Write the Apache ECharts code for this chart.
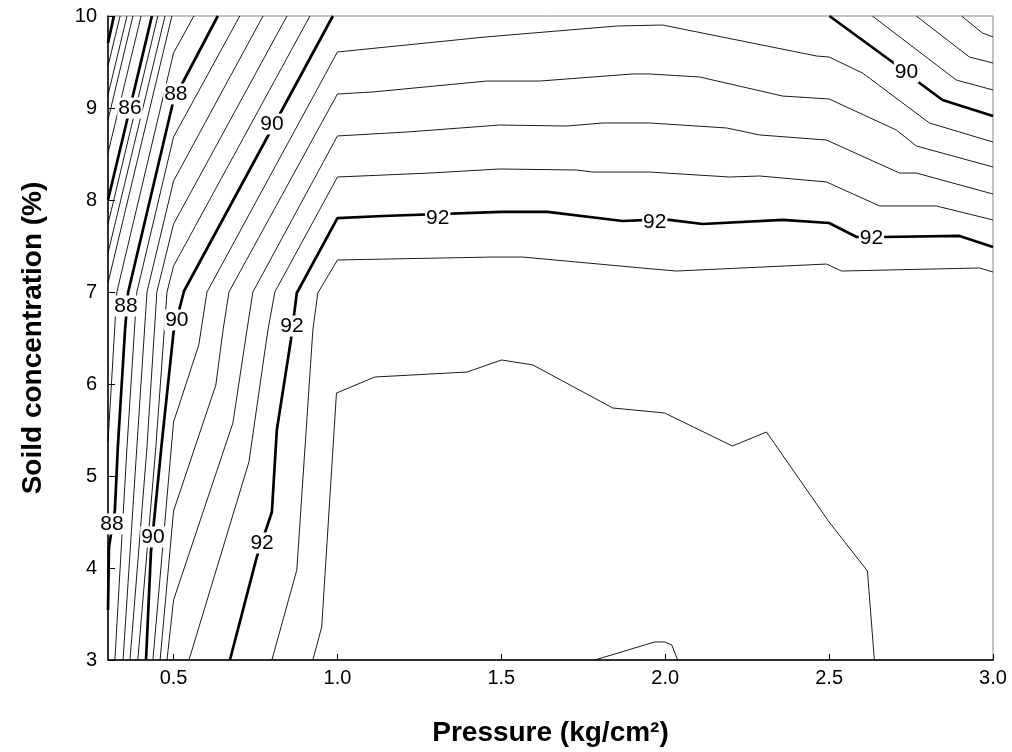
<!DOCTYPE html>
<html>
<head>
<meta charset="utf-8">
<script src="https://cdn.jsdelivr.net/npm/echarts@6.0.0/dist/echarts.min.js"></script>
<style>
    html, body { margin: 0; padding: 0; background: #fff; }
    #main { width: 1012px; height: 752px; }
</style>
</head>
<body>
<div id="main"></div>
<script>
// tick values
var xTicks = [0.5, 1.0, 1.5, 2.0, 2.5, 3.0];

// contour lines, [pressure, solid %]
var c84   = [[0.318, 10], [0.3, 9.707]];
var c84_4 = [[0.337, 10], [0.3, 9.457]];
var c84_8 = [[0.358, 10], [0.3, 9.141]];
var c85_2 = [[0.376, 10], [0.3, 8.870]];
var c85_6 = [[0.401, 10], [0.3, 8.511]];
var c86   = [[0.434, 10], [0.3, 8.0]];
var c86_4 = [[0.452, 10], [0.3, 7.739]];
var c86_8 = [[0.474, 10], [0.3, 7.424]];
var c87_2 = [[0.495, 10], [0.3, 7.098]];
var c87_6 = [[0.562, 10], [0.5, 9.598], [0.327, 7.0], [0.3, 5.370]];
var c88   = [[0.635, 10], [0.5, 9.087], [0.361, 6.989], [0.352, 6.587], [0.330, 5.315], [0.321, 4.630], [0.303, 4.228], [0.3, 3.543]];
var c88_4 = [[0.702, 10], [0.5, 8.685], [0.388, 7.0], [0.358, 5.315], [0.321, 3.0]];
var c88_8 = [[0.773, 10], [0.5, 8.207], [0.419, 7.0], [0.388, 5.315], [0.346, 3.0]];
var c89_2 = [[0.846, 10], [0.5, 7.739], [0.449, 7.0], [0.419, 5.315], [0.367, 3.0]];
var c89_6 = [[0.916, 10], [0.5, 7.283], [0.480, 7.0], [0.446, 5.315], [0.391, 3.0]];
var c90   = [[0.986, 10], [0.532, 7.011], [0.5, 6.565], [0.465, 5.391], [0.431, 4.174], [0.416, 3.0]];
var c90_4 = [[3.0, 8.630], [2.806, 8.837], [2.602, 9.380], [2.5, 9.554], [2.462, 9.565], [1.992, 9.902], [1.852, 9.891],
             [1.452, 9.772], [1.0, 9.609], [0.602, 7.0], [0.577, 6.424], [0.5, 5.587], [0.437, 3.0]];
var c90_8 = [[3.0, 8.359], [2.766, 8.587], [2.705, 8.761], [2.5, 9.098], [2.358, 9.130], [2.105, 9.337], [1.952, 9.370],
             [1.901, 9.370], [1.617, 9.293], [1.455, 9.293], [1.108, 9.174], [1.0, 9.152], [0.669, 7.0], [0.651, 6.587],
             [0.629, 5.989], [0.5, 4.620], [0.459, 3.0]];
var c91_2 = [[3.0, 8.065], [2.766, 8.293], [2.715, 8.293], [2.492, 8.652], [2.288, 8.707], [2.187, 8.783], [1.952, 8.837],
             [1.809, 8.837], [1.699, 8.804], [1.495, 8.815], [1.212, 8.739], [1.0, 8.696], [0.742, 7.0], [0.724, 6.587],
             [0.681, 5.576], [0.5, 3.652], [0.480, 3.0]];
var c91_6 = [[3.0, 7.783], [2.827, 7.935], [2.654, 7.935], [2.492, 8.196], [2.288, 8.261], [2.196, 8.250], [1.952, 8.304],
             [1.779, 8.304], [1.730, 8.326], [1.495, 8.337], [1.282, 8.293], [1.0, 8.250], [0.809, 7.0], [0.788, 6.587],
             [0.779, 6.370], [0.730, 5.152], [0.547, 3.0]];
var c92   = [[3.0, 7.489], [2.898, 7.609], [2.663, 7.598], [2.584, 7.598], [2.5, 7.750], [2.358, 7.783], [2.114, 7.739],
             [2.013, 7.783], [1.952, 7.783], [1.870, 7.772], [1.641, 7.870], [1.5, 7.870], [1.138, 7.826], [1.0, 7.804],
             [0.876, 6.989], [0.858, 6.478], [0.815, 5.5], [0.8, 4.609], [0.754, 4.120], [0.672, 3.0]];
var c92_4 = [[3.0, 7.217], [2.959, 7.261], [2.538, 7.228], [2.492, 7.304], [2.035, 7.228], [1.962, 7.250], [1.565, 7.380],
             [1.474, 7.380], [1.0, 7.348], [0.940, 6.989], [0.925, 6.587], [0.876, 3.978], [0.8, 3.0]];
var c92_8 = [[0.925, 3.0], [0.952, 3.359], [0.997, 5.902], [1.114, 6.076], [1.395, 6.130], [1.501, 6.261], [1.596, 6.207],
             [1.840, 5.739], [1.998, 5.685], [2.205, 5.326], [2.309, 5.478], [2.5, 4.5], [2.617, 3.967], [2.638, 3.0]];
var c93_2 = [[1.785, 3.0], [1.968, 3.196], [1.998, 3.196], [2.020, 3.163], [2.038, 3.0]];
// upper right corner
var c90b  = [[2.501, 10], [2.693, 9.5], [2.776, 9.272], [2.846, 9.087], [3.0, 8.913]];
var c89_6b = [[2.632, 10], [2.888, 9.304], [3.0, 9.196]];
var c89_2b = [[2.766, 10], [2.928, 9.554], [3.0, 9.489]];
var c88_8b = [[2.904, 10], [2.968, 9.815], [3.0, 9.772]];

// inline labels
var labels = [
    [0.367, 9.0, '86'],
    [0.507, 9.152, '88'], [0.355, 6.848, '88'], [0.312, 4.478, '88'],
    [0.8, 8.826, '90'], [0.510, 6.696, '90'], [0.437, 4.337, '90'], [2.736, 9.391, '90'],
    [1.306, 7.804, '92'], [1.968, 7.761, '92'], [2.629, 7.587, '92'], [0.861, 6.630, '92'], [0.770, 4.272, '92']
];

var thin = [c84_4, c84_8, c85_2, c85_6, c86_4, c86_8, c87_2, c87_6, c88_4, c88_8, c89_2, c89_6,
            c90_4, c90_8, c91_2, c91_6, c92_4, c92_8, c93_2, c89_6b, c89_2b, c88_8b];
var bold = [c84, c86, c88, c90, c92, c90b];

var font = 'Liberation Sans, Arial, sans-serif';
var myChart = echarts.init(document.getElementById('main'));

var series = [];
thin.forEach(function (d) {
    series.push({
        type: 'line', data: d, showSymbol: false, silent: true, z: 2,
        lineStyle: {color: '#000', width: 0.9}
    });
});
bold.forEach(function (d) {
    series.push({
        type: 'line', data: d, showSymbol: false, silent: true, z: 3,
        lineStyle: {color: '#000', width: 2.7}
    });
});
// contour labels (white box over the line)
series.push({
    type: 'scatter', silent: true, z: 10, symbolSize: 0,
    itemStyle: {color: '#000', opacity: 1},
    data: labels.map(function (l) { return {value: [l[0], l[1]], name: l[2]}; }),
    label: {
        show: true, position: 'inside', formatter: '{b}', opacity: 1,
        color: '#000', fontSize: 21, fontFamily: font,
        textBorderWidth: 0, textBorderColor: 'transparent',
        backgroundColor: '#fff', padding: [0, 1]
    }
});

var option = {
    animation: false,
    grid: {left: 108, right: 19, top: 16, bottom: 92, show: true, borderColor: '#888', borderWidth: 1},
    xAxis: {
        type: 'value', min: 0.3, max: 3.0,
        name: 'Pressure (kg/cm²)', nameLocation: 'middle', nameGap: 59,
        nameTextStyle: {fontSize: 28, fontWeight: 'bold', color: '#000', fontFamily: font},
        axisLine: {lineStyle: {color: '#000', width: 1.5}},
        axisTick: {inside: true, length: 6, customValues: xTicks, lineStyle: {color: '#000'}},
        axisLabel: {customValues: xTicks, margin: 8, fontSize: 20, color: '#000', fontFamily: font,
            formatter: function (v) { return v.toFixed(1); }},
        splitLine: {show: false}
    },
    yAxis: {
        type: 'value', min: 3, max: 10, interval: 1,
        name: 'Soild concentration (%)', nameLocation: 'middle', nameGap: 61,
        nameTextStyle: {fontSize: 28, fontWeight: 'bold', color: '#000', fontFamily: font},
        axisLine: {show: true, lineStyle: {color: '#000', width: 1.5}},
        axisTick: {show: true, inside: true, length: 7, lineStyle: {color: '#000'}},
        axisLabel: {margin: 11, fontSize: 20, color: '#000', fontFamily: font},
        splitLine: {show: false}
    },
    series: series
};

myChart.setOption(option);
</script>
</body>
</html>
